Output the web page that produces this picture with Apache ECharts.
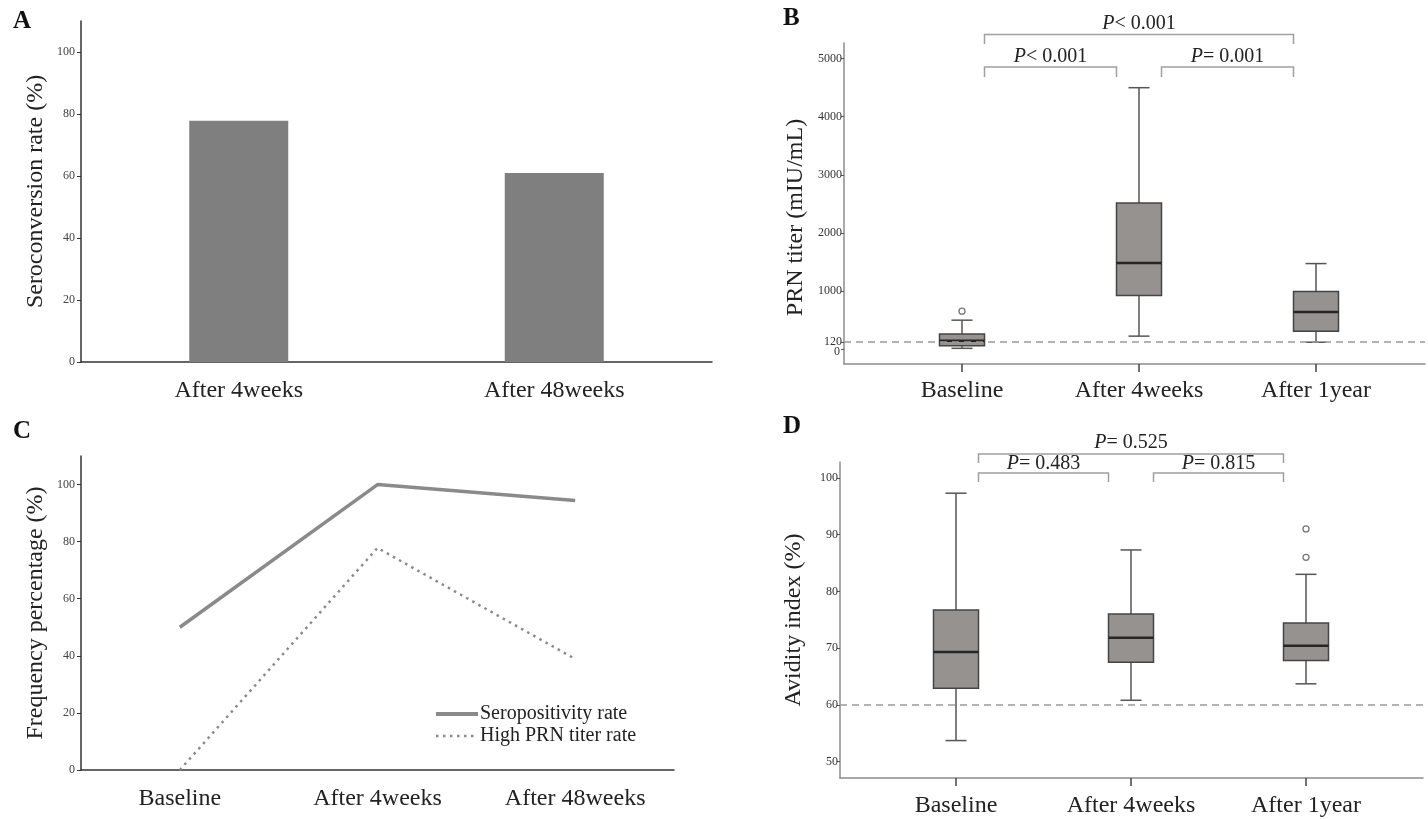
<!DOCTYPE html>
<html>
<head>
<meta charset="utf-8">
<title>PRN antibody response</title>
<script src="https://cdn.jsdelivr.net/npm/echarts@6.0.0/dist/echarts.min.js"></script>
<style>
  html, body { margin: 0; padding: 0; background: #fff; }
  #main { width: 1428px; height: 819px; }
</style>
</head>
<body>
<div id="main"></div>
<script>
// panel A
const barCategories = ['After 4weeks', 'After 48weeks'];
const seroconversion = [77.8, 61.0];
const percentTicks = [0, 20, 40, 60, 80, 100];

// panel C
const lineCategories = ['Baseline', 'After 4weeks', 'After 48weeks'];
const seropositivity = [50.0, 100.0, 94.4];
const highTiter = [0.0, 77.8, 38.9];

// panels B and D: [min, Q1, median, Q3, max]
const boxCategories = ['Baseline', 'After 4weeks', 'After 1year'];
const prnBoxes = [
  [10, 55, 140, 255, 495],
  [220, 920, 1480, 2515, 4500],
  [115, 305, 635, 990, 1470]
];
const prnOutliers = [[0, 650]];
const prnCutoff = 120;
const prnTicks = [0, 120, 1000, 2000, 3000, 4000, 5000];
// [from, to, p text, level]
const prnBrackets = [[0, 1, '< 0.001', 0], [1, 2, '= 0.001', 0], [0, 2, '< 0.001', 1]];

const avidityBoxes = [
  [53.7, 62.9, 69.3, 76.7, 97.3],
  [60.8, 67.5, 71.8, 76.0, 87.3],
  [63.7, 67.8, 70.4, 74.4, 83.0]
];
const avidityOutliers = [[2, 86.0], [2, 91.0]];
const avidityCutoff = 60;
const avidityTicks = [50, 60, 70, 80, 90, 100];
const avidityBrackets = [[0, 1, '= 0.483', 0], [1, 2, '= 0.815', 0], [0, 2, '= 0.525', 1]];

const SERIF = '"Liberation Serif", "Times New Roman", Times, serif';
const BOX_HALF = 22.5;
const CAP_HALF = 10.5;

const chart = echarts.init(document.getElementById('main'));

function renderBox(params, api) {
  const cat = api.value(0);
  const x = api.coord([cat, 0])[0];
  const ys = [1, 2, 3, 4, 5].map(i => api.coord([cat, api.value(i)])[1]);
  const [yMin, yQ1, yMed, yQ3, yMax] = ys;
  const whisker = { stroke: '#555', lineWidth: 1.5 };
  return {
    type: 'group',
    children: [
      { type: 'line', shape: { x1: x, y1: yQ3, x2: x, y2: yMax }, style: whisker },
      { type: 'line', shape: { x1: x, y1: yQ1, x2: x, y2: yMin }, style: whisker },
      { type: 'line', shape: { x1: x - CAP_HALF, y1: yMax, x2: x + CAP_HALF, y2: yMax }, style: whisker },
      { type: 'line', shape: { x1: x - CAP_HALF, y1: yMin, x2: x + CAP_HALF, y2: yMin }, style: whisker },
      {
        type: 'rect',
        shape: { x: x - BOX_HALF, y: yQ3, width: BOX_HALF * 2, height: yQ1 - yQ3 },
        style: { fill: '#96928f', stroke: '#454545', lineWidth: 1.5 }
      },
      {
        type: 'line',
        shape: { x1: x - BOX_HALF, y1: yMed, x2: x + BOX_HALF, y2: yMed },
        style: { stroke: '#262626', lineWidth: 2.5 }
      }
    ]
  };
}

function catAxis(gridIndex, data, opts) {
  return Object.assign({
    type: 'category',
    gridIndex,
    data,
    axisLine: { show: true, onZero: false, lineStyle: { color: '#333', width: 1.5 } },
    axisTick: { show: false },
    axisLabel: { fontFamily: SERIF, fontSize: 24, color: '#222', margin: 17 }
  }, opts);
}

function boxCatAxis(gridIndex, margin) {
  return catAxis(gridIndex, boxCategories, {
    axisLine: { show: false, onZero: false },
    axisTick: { show: true, alignWithLabel: true, length: 8, lineStyle: { color: '#444', width: 1.5 } },
    axisLabel: { fontFamily: SERIF, fontSize: 24, color: '#222', margin }
  });
}

function percentAxis(gridIndex, name) {
  return {
    type: 'value',
    gridIndex,
    min: 0,
    max: 110,
    name,
    nameLocation: 'middle',
    nameGap: 33,
    nameTextStyle: { fontFamily: SERIF, fontSize: 24, color: '#222' },
    axisLine: { show: true, lineStyle: { color: '#333', width: 1.5 } },
    axisTick: { show: true, length: 4, customValues: percentTicks, lineStyle: { color: '#333' } },
    axisLabel: { customValues: percentTicks, fontFamily: SERIF, fontSize: 12, color: '#444', margin: 6 },
    splitLine: { show: false }
  };
}

function frameY(gridIndex, min, max, ticks, name, nameGap, namePadding) {
  return {
    type: 'value',
    gridIndex,
    min,
    max,
    name,
    nameLocation: 'middle',
    nameGap,
    nameTextStyle: { fontFamily: SERIF, fontSize: 24, color: '#222', padding: namePadding },
    axisLine: { show: true, onZero: false, lineStyle: { color: '#8c8c8c', width: 1.5 } },
    axisTick: { show: true, length: 3, customValues: ticks, lineStyle: { color: '#555' } },
    axisLabel: {
      customValues: ticks,
      hideOverlap: false,
      formatter: v => String(v),
      fontFamily: SERIF,
      fontSize: 12,
      color: '#333',
      margin: 2
    },
    splitLine: { show: false }
  };
}

// extra tick axis so the "0" label next to "120" is not dropped
function zeroTickAxis(gridIndex, min, max, ticks) {
  return {
    type: 'value',
    gridIndex,
    min,
    max,
    position: 'left',
    axisLine: { show: false, onZero: false },
    axisTick: { show: true, length: 3, customValues: ticks, lineStyle: { color: '#555' } },
    axisLabel: {
      customValues: ticks,
      formatter: v => String(v),
      fontFamily: SERIF,
      fontSize: 12,
      color: '#333',
      margin: 4,
      verticalAlign: 'top',
      padding: [-3, 0, 0, 0]
    },
    splitLine: { show: false }
  };
}

function frameX(gridIndex) {
  return {
    type: 'value',
    gridIndex,
    min: 0,
    max: 1,
    axisLine: { show: true, onZero: false, lineStyle: { color: '#8c8c8c', width: 1.5 } },
    axisTick: { show: false },
    axisLabel: { show: false },
    splitLine: { show: false }
  };
}

function cutoffSeries(axisIndex, value) {
  return {
    type: 'line',
    xAxisIndex: axisIndex,
    yAxisIndex: axisIndex,
    data: [],
    silent: true,
    markLine: {
      silent: true,
      symbol: 'none',
      label: { show: false },
      lineStyle: { color: '#9a9a9a', width: 1.5, type: [7, 5] },
      data: [{ yAxis: value }]
    }
  };
}

function panelTitle(text, left, top) {
  return {
    text,
    left,
    top,
    padding: 0,
    textStyle: { fontFamily: SERIF, fontSize: 25, fontWeight: 'bold', color: '#111' }
  };
}

const option = {
  backgroundColor: '#fff',
  animation: false,
  title: [
    panelTitle('A', 13, 9),
    panelTitle('B', 783, 6),
    panelTitle('C', 13, 419),
    panelTitle('D', 783, 414)
  ],
  legend: {
    orient: 'vertical',
    left: 434,
    top: 704,
    padding: 0,
    itemGap: 2,
    itemWidth: 42,
    itemHeight: 1,
    itemStyle: { color: 'transparent', borderColor: 'transparent', borderWidth: 0 },
    textStyle: { fontFamily: SERIF, fontSize: 20, color: '#222', padding: [0, 0, 0, -3] },
    data: [
      { name: 'Seropositivity rate', lineStyle: { width: 4, color: '#8a8a8a' } },
      { name: 'High PRN titer rate', lineStyle: { width: 2.5, color: '#8a8a8a', type: [2.5, 4.5] } }
    ]
  },
  grid: [
    { left: 81, top: 21, width: 631, height: 341 },
    { left: 81, top: 456, width: 593, height: 314 },
    { left: 873.5, top: 43, width: 531, height: 321 },
    { left: 844, top: 43, width: 581, height: 321 },
    { left: 868.5, top: 462, width: 525, height: 316 },
    { left: 840, top: 462, width: 583, height: 316 }
  ],
  xAxis: [
    catAxis(0, barCategories),
    catAxis(1, lineCategories),
    boxCatAxis(2, 15),
    frameX(3),
    boxCatAxis(4, 16),
    frameX(5)
  ],
  yAxis: [
    percentAxis(0, 'Seroconversion rate (%)'),
    percentAxis(1, 'Frequency percentage (%)'),
    { type: 'value', gridIndex: 2, min: -260, max: 5270, show: false },
    frameY(3, -260, 5270, prnTicks.slice(1), 'PRN titer (mIU/mL)', 36, [0, 28, 0, 0]),
    { type: 'value', gridIndex: 4, min: 47.1, max: 102.8, show: false },
    frameY(5, 47.1, 102.8, avidityTicks, 'Avidity index (%)', 34, 0),
    zeroTickAxis(3, -260, 5270, prnTicks.slice(0, 1))
  ],
  series: [
    {
      type: 'bar',
      xAxisIndex: 0,
      yAxisIndex: 0,
      barWidth: 99,
      itemStyle: { color: '#7f7f7f' },
      data: seroconversion
    },
    {
      name: 'Seropositivity rate',
      type: 'line',
      xAxisIndex: 1,
      yAxisIndex: 1,
      symbol: 'none',
      itemStyle: { color: '#8a8a8a' },
      lineStyle: { color: '#8a8a8a', width: 3.5 },
      data: seropositivity
    },
    {
      name: 'High PRN titer rate',
      type: 'line',
      xAxisIndex: 1,
      yAxisIndex: 1,
      symbol: 'none',
      itemStyle: { color: '#8a8a8a' },
      lineStyle: { color: '#8a8a8a', width: 2.5, type: [2.5, 4.5] },
      data: highTiter
    },
    {
      type: 'custom',
      xAxisIndex: 2,
      yAxisIndex: 2,
      renderItem: renderBox,
      encode: { x: 0, y: [1, 2, 3, 4, 5] },
      data: prnBoxes.map((b, i) => [i, ...b])
    },
    {
      type: 'scatter',
      xAxisIndex: 2,
      yAxisIndex: 2,
      symbol: 'circle',
      symbolSize: 6,
      itemStyle: { color: '#fff', borderColor: '#555', borderWidth: 1.3 },
      data: prnOutliers
    },
    cutoffSeries(3, prnCutoff),
    {
      type: 'custom',
      xAxisIndex: 4,
      yAxisIndex: 4,
      renderItem: renderBox,
      encode: { x: 0, y: [1, 2, 3, 4, 5] },
      data: avidityBoxes.map((b, i) => [i, ...b])
    },
    {
      type: 'scatter',
      xAxisIndex: 4,
      yAxisIndex: 4,
      symbol: 'circle',
      symbolSize: 6,
      itemStyle: { color: '#fff', borderColor: '#555', borderWidth: 1.3 },
      data: avidityOutliers
    },
    cutoffSeries(5, avidityCutoff)
  ]
};

chart.setOption(option);

// significance brackets above the box plots
function bracketGraphics(xAxisIndex, brackets, levels) {
  const out = [];
  for (const [from, to, text, level] of brackets) {
    const x1 = chart.convertToPixel({ xAxisIndex }, boxCategories[from]) + BOX_HALF;
    const x2 = chart.convertToPixel({ xAxisIndex }, boxCategories[to]) - BOX_HALF;
    const lv = levels[level];
    out.push({
      type: 'polyline',
      silent: true,
      shape: { points: [[x1, lv.line + lv.drop], [x1, lv.line], [x2, lv.line], [x2, lv.line + lv.drop]] },
      style: { stroke: '#a0a0a0', lineWidth: 1.5, fill: null }
    });
    out.push({
      type: 'text',
      silent: true,
      x: (x1 + x2) / 2,
      y: lv.text,
      style: {
        text: '{i|P}' + text,
        align: 'center',
        verticalAlign: 'middle',
        fontFamily: SERIF,
        fontSize: 20,
        fill: '#222',
        rich: { i: { fontStyle: 'italic', fontFamily: SERIF, fontSize: 20, fill: '#222' } }
      }
    });
  }
  return out;
}

chart.setOption({
  graphic: [
    ...bracketGraphics(2, prnBrackets, [
      { line: 67, drop: 10, text: 57 },
      { line: 34.5, drop: 9.5, text: 24 }
    ]),
    ...bracketGraphics(4, avidityBrackets, [
      { line: 473, drop: 9, text: 464 },
      { line: 454, drop: 9, text: 443 }
    ])
  ]
});
</script>
</body>
</html>
